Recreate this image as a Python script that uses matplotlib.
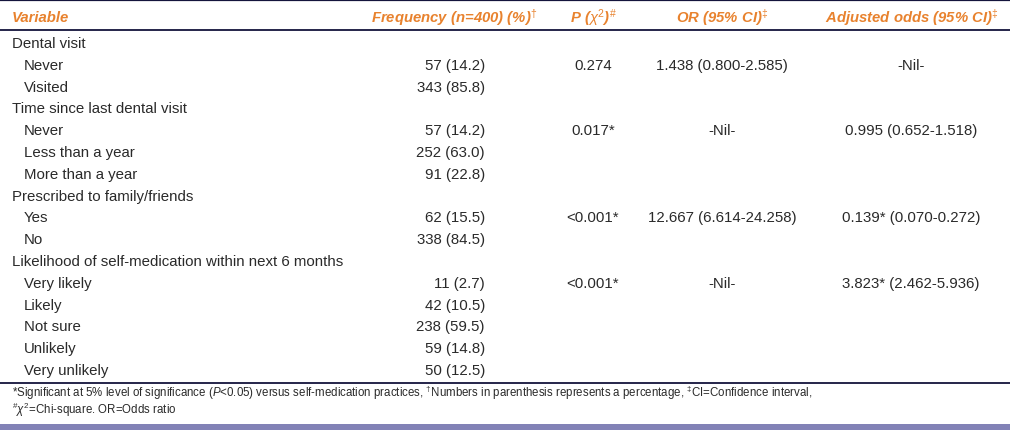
import matplotlib
matplotlib.use("Agg")
import matplotlib.pyplot as plt

plt.rcParams['font.family'] = ['Liberation Sans', 'DejaVu Sans']
plt.rcParams['mathtext.fontset'] = 'custom'
plt.rcParams['mathtext.rm'] = 'Liberation Sans'
plt.rcParams['mathtext.it'] = 'Liberation Sans:italic'
plt.rcParams['mathtext.bf'] = 'Liberation Sans:bold:italic'

#_________table content_________#

headers = ["Variable", "Frequency (n=400) (%)$^{\u2020}$", "P ($\\chi^{2}$)$^{\\#}$",
           "OR (95% CI)$^{\u2021}$", "Adjusted odds (95% CI)$^{\u2021}$"]

labels = ["Dental visit", "Never", "Visited",
          "Time since last dental visit", "Never", "Less than a year", "More than a year",
          "Prescribed to family/friends", "Yes", "No",
          "Likelihood of self-medication within next 6 months",
          "Very likely", "Likely", "Not sure", "Unlikely", "Very unlikely"]
is_group = [1, 0, 0, 1, 0, 0, 0, 1, 0, 0, 1, 0, 0, 0, 0, 0]
freq = ["", "57 (14.2)", "343 (85.8)",
        "", "57 (14.2)", "252 (63.0)", "91 (22.8)",
        "", "62 (15.5)", "338 (84.5)",
        "", "11 (2.7)", "42 (10.5)", "238 (59.5)", "59 (14.8)", "50 (12.5)"]
pval = ["", "0.274", "", "", "0.017*", "", "", "", "<0.001*", "", "", "<0.001*", "", "", "", ""]
odds = ["", "1.438 (0.800-2.585)", "", "", "-Nil-", "", "", "", "12.667 (6.614-24.258)", "",
        "", "-Nil-", "", "", "", ""]
adj = ["", "-Nil-", "", "", "0.995 (0.652-1.518)", "", "", "", "0.139* (0.070-0.272)", "",
       "", "3.823* (2.462-5.936)", "", "", "", ""]

foot1 = ("*Significant at 5% level of significance ($P$<0.05) versus self-medication practices, "
         "$^{\u2020}$Numbers in parenthesis represents a percentage, $^{\u2021}$CI=Confidence interval,")
foot2 = "$^{\\#}\\chi^{2}$=Chi-square. OR=Odds ratio"

#_________drawing_________#

W, H = 1010, 431
fig = plt.figure(figsize=(W / 100, H / 100), dpi=100)
ax = fig.add_axes([0, 0, 1, 1])
ax.set_xlim(0, W)
ax.set_ylim(H, 0)
ax.axis('off')

orange = '#E8822E'
txt = '#2a2a2a'
line_c = '#14143c'
fs = 10.8
hfs = 10.7

# header
hy = 18
ax.text(12, hy, headers[0], color=orange, fontsize=hfs, fontweight='bold', style='italic', va='center')
ax.text(537, hy, headers[1], color=orange, fontsize=hfs, fontweight='bold', style='italic', va='center', ha='right')
ax.text(593, hy, headers[2], color=orange, fontsize=hfs, fontweight='bold', style='italic', va='center', ha='center')
ax.text(722, hy, headers[3], color=orange, fontsize=hfs, fontweight='bold', style='italic', va='center', ha='center')
ax.text(912, hy, headers[4], color=orange, fontsize=hfs, fontweight='bold', style='italic', va='center', ha='center')

ax.axhline(1, color=line_c, lw=1.6)
ax.axhline(30.5, color=line_c, lw=1.3)
ax.axhline(383.5, color=line_c, lw=1.3)

y0, step = 44, 21.8
for i, lab in enumerate(labels):
    y = y0 + i * step
    x = 12 if is_group[i] else 24
    ax.text(x, y, lab, color=txt, fontsize=fs, va='center')
    ax.text(485, y, freq[i], color=txt, fontsize=fs, va='center', ha='right')
    ax.text(593, y, pval[i], color=txt, fontsize=fs, va='center', ha='center')
    ax.text(722, y, odds[i], color=txt, fontsize=fs, va='center', ha='center')
    ax.text(911, y, adj[i], color=txt, fontsize=fs, va='center', ha='center')

# footnote
ax.text(12, 393, foot1, color=txt, fontsize=8.3, va='center')
ax.text(12, 410, foot2, color=txt, fontsize=8.3, va='center')

# bottom band
ax.axhspan(425.5, H, color='#8282b6', lw=0)

fig.savefig("out.png", dpi=100)
